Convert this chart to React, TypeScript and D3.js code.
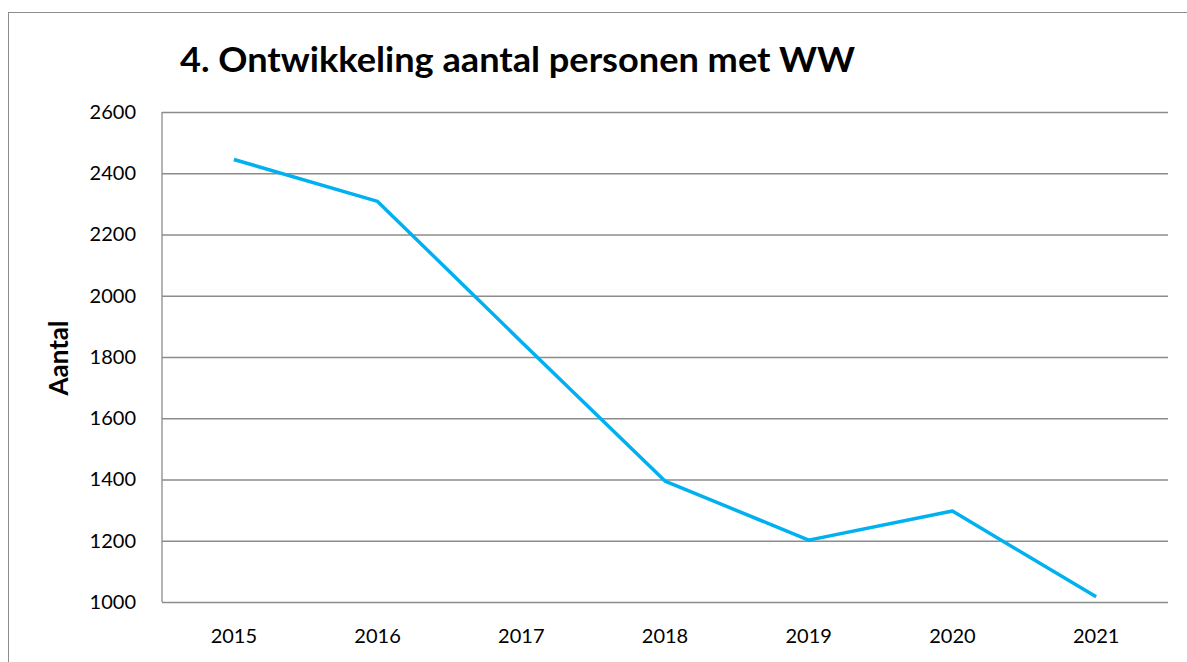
import * as d3 from "d3";
import {useEffect, useRef} from "react";

const years = ["2015", "2016", "2017", "2018", "2019", "2020", "2021"];
const aantal = [2445, 2308, 1850, 1395, 1202, 1297, 1017];
const yTicks = [1000, 1200, 1400, 1600, 1800, 2000, 2200, 2400, 2600];
const title = "4. Ontwikkeling aantal personen met WW";
const yLabel = "Aantal";

const App = () => {
    const svgRef = useRef<SVGSVGElement>(null);
    const width = 1187;
    const height = 662;

    useEffect(() => {
        if (!svgRef.current) return;
        const root = d3.select(svgRef.current);
        root.selectAll("*").remove();

        const font = "Lato, 'Open Sans', sans-serif";
        const margin = {top: 112, right: 19, bottom: 60, left: 162};
        const innerWidth = width - margin.left - margin.right;
        const innerHeight = 602 - margin.top;

        // outer frame (continues past the picture edge)
        root.append("rect")
            .attr("x", 8.5).attr("y", 12.5)
            .attr("width", width).attr("height", height)
            .attr("fill", "white")
            .attr("stroke", "#8c8c8c").attr("stroke-width", 1);

        root.append("text")
            .attr("x", 180).attr("y", 72)
            .attr("font-family", font).attr("font-weight", "bold")
            .attr("font-size", 35).attr("fill", "#000")
            .attr("textLength", 675).attr("lengthAdjust", "spacingAndGlyphs")
            .text(title);

        const xScale = d3.scaleBand().domain(years).range([0, innerWidth]);
        const yScale = d3.scaleLinear().domain([1000, 2600]).range([innerHeight, 0]);

        const g = root.append("g").attr("transform", `translate(${margin.left},${margin.top})`);

        // gridlines
        g.append("g")
            .call(d3.axisLeft(yScale).tickValues(yTicks).tickSize(-innerWidth).tickFormat(() => ""))
            .call(s => s.select(".domain").remove())
            .call(s => s.selectAll("line").attr("stroke", "#8c8c8c").attr("stroke-width", 1.3));

        // y axis line
        g.append("line")
            .attr("x1", 0).attr("x2", 0).attr("y1", 0).attr("y2", innerHeight)
            .attr("stroke", "#8c8c8c").attr("stroke-width", 1.3);

        // y labels
        g.append("g")
            .call(d3.axisLeft(yScale).tickValues(yTicks).tickSize(0).tickPadding(26).tickFormat(d3.format("d")))
            .call(s => s.select(".domain").remove())
            .call(s => s.selectAll("text").attr("font-family", font).attr("font-size", 20).attr("fill", "#000"));

        // x labels
        g.append("g")
            .attr("transform", `translate(0,${innerHeight})`)
            .call(d3.axisBottom(xScale).tickSize(0).tickPadding(27))
            .call(s => s.select(".domain").remove())
            .call(s => s.selectAll("text").attr("font-family", font).attr("font-size", 20).attr("fill", "#000"));

        root.append("text")
            .attr("transform", `translate(68,358) rotate(-90)`)
            .attr("text-anchor", "middle")
            .attr("font-family", font).attr("font-weight", "bold")
            .attr("font-size", 26).attr("fill", "#000")
            .text(yLabel);

        const line = d3.line<number>()
            .x((_, i) => (xScale(years[i]) ?? 0) + xScale.bandwidth() / 2)
            .y(d => yScale(d));

        g.append("path")
            .datum(aantal)
            .attr("fill", "none")
            .attr("stroke", "#00b0f0")
            .attr("stroke-width", 3.5)
            .attr("stroke-linejoin", "round")
            .attr("d", line);
    }, []);

    return <svg ref={svgRef} width={width} height={height} style={{position: "absolute", left: 0, top: 0}}></svg>;
};

export default App;
